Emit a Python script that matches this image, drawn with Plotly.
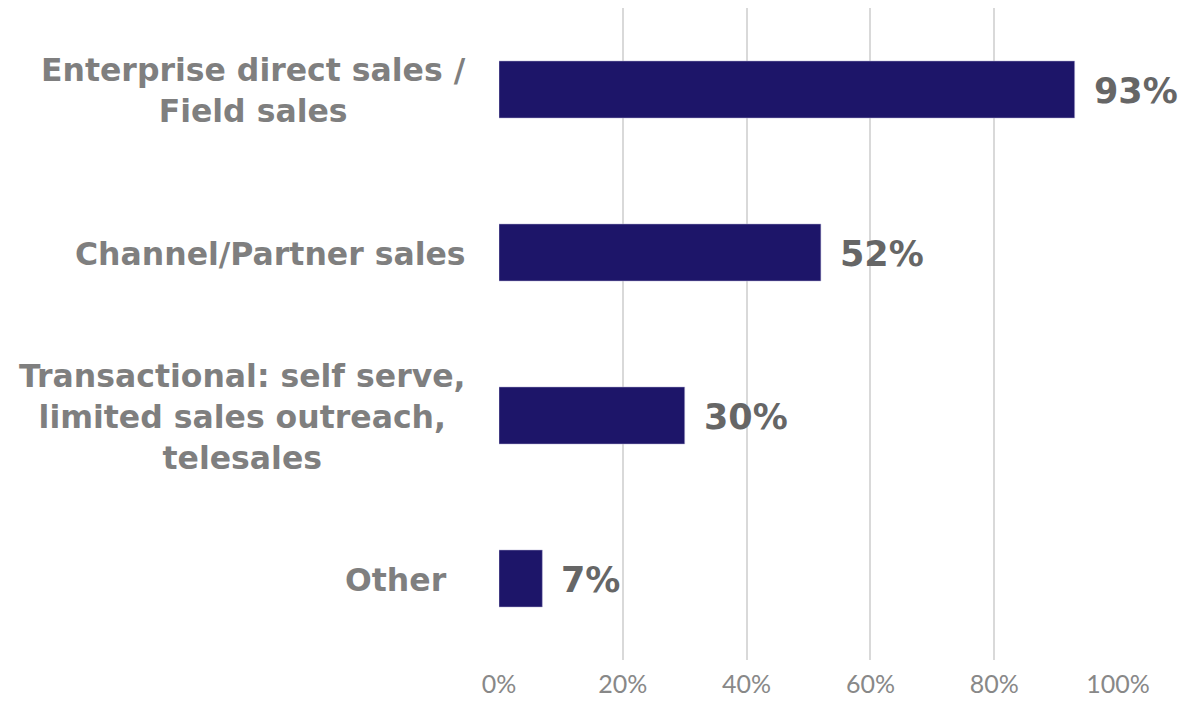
import plotly.graph_objects as go

# Sales channel shares (top to bottom)
categories = [
    "Enterprise direct sales /<br>Field sales",
    "Channel/Partner sales",
    "Transactional: self serve,<br>limited sales outreach,<br>telesales",
    "Other",
]
values = [93, 52, 30, 7]
value_labels = ["93%", "52%", "30%", "7%"]
x_ticks = [0, 20, 40, 60, 80, 100]
x_tick_labels = ["0%", "20%", "40%", "60%", "80%", "100%"]

BAR = "#1d1569"
CAT_GREY = "#7f7f7f"
VAL_GREY = "#666666"
GRID = "#d9d9d9"

fig = go.Figure()
fig.add_trace(go.Bar(
    y=categories,
    x=values,
    orientation="h",
    width=0.35,
    marker=dict(color=BAR, line=dict(color="#b8b5d6", width=0.5)),
    hoverinfo="skip",
))

# value labels to the right of each bar
for cat, v, lab in zip(categories, values, value_labels):
    fig.add_annotation(
        x=v, y=cat, xref="x", yref="y",
        text=f"<b>{lab}</b>", showarrow=False,
        xanchor="left", xshift=17, yshift=-1,
        font=dict(family="DejaVu Sans", size=35, color=VAL_GREY),
    )

# category labels, centred text blocks to the left of the axis
label_shift = {"Other": -19}
for cat in categories:
    fig.add_annotation(
        x=0, y=cat, xref="x", yref="y",
        text=f"<b>{cat}</b>", showarrow=False,
        xanchor="right", align="center",
        xshift=-31 + label_shift.get(cat, 0), yshift=-1,
        font=dict(family="DejaVu Sans", size=31.5, color=CAT_GREY),
    )

fig.update_layout(
    width=1184, height=702,
    margin=dict(l=499, r=66, t=8, b=42),
    paper_bgcolor="white", plot_bgcolor="white",
    showlegend=False,
    xaxis=dict(
        range=[0, 100], tickvals=x_ticks, ticktext=x_tick_labels,
        showgrid=True, gridcolor=GRID, gridwidth=2,
        zeroline=False, showline=False, ticks="",
        tickfont=dict(family="Lato", size=25, color="#888888"),
        ticklabelstandoff=7, automargin=False,
        fixedrange=True,
    ),
    yaxis=dict(
        categoryorder="array", categoryarray=categories[::-1],
        range=[-0.5, 3.5], showticklabels=False,
        showgrid=False, zeroline=False, showline=False, ticks="",
        automargin=False, fixedrange=True,
    ),
)

fig.write_html("out.html")
